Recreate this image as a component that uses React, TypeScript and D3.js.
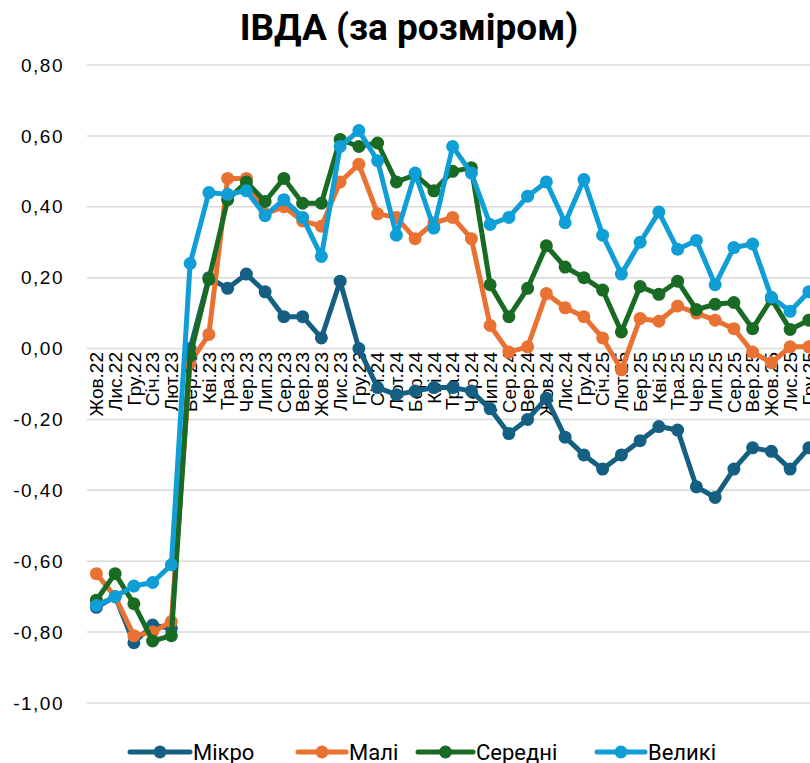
import React from 'react';
import * as d3 from 'd3';

// categories (months)
const categories = [
  'Жов.22', 'Лис.22', 'Гру.22', 'Січ.23', 'Лют.23', 'Бер.23', 'Кві.23', 'Тра.23', 'Чер.23', 'Лип.23',
  'Сер.23', 'Вер.23', 'Жов.23', 'Лис.23', 'Гру.23', 'Січ.24', 'Лют.24', 'Бер.24', 'Кві.24', 'Тра.24',
  'Чер.24', 'Лип.24', 'Сер.24', 'Вер.24', 'Жов.24', 'Лис.24', 'Гру.24', 'Січ.25', 'Лют.25', 'Бер.25',
  'Кві.25', 'Тра.25', 'Чер.25', 'Лип.25', 'Сер.25', 'Вер.25', 'Жов.25', 'Лис.25', 'Гру.25'
];

const micro = [
  -0.73, -0.70, -0.83, -0.78, -0.79, 0.00, 0.20, 0.17, 0.21, 0.16,
  0.09, 0.09, 0.03, 0.19, 0.00, -0.11, -0.13, -0.12, -0.11, -0.11,
  -0.12, -0.17, -0.24, -0.20, -0.14, -0.25, -0.30, -0.34, -0.30, -0.26,
  -0.22, -0.23, -0.39, -0.42, -0.34, -0.28, -0.29, -0.34, -0.28
];
const mali = [
  -0.635, -0.70, -0.81, -0.80, -0.77, -0.04, 0.04, 0.48, 0.48, 0.38,
  0.40, 0.36, 0.345, 0.47, 0.52, 0.38, 0.37, 0.31, 0.355, 0.37,
  0.31, 0.065, -0.01, 0.005, 0.155, 0.115, 0.09, 0.03, -0.06, 0.085,
  0.077, 0.12, 0.10, 0.08, 0.056, -0.01, -0.04, 0.005, 0.005
];
const seredni = [
  -0.71, -0.635, -0.72, -0.825, -0.81, -0.02, 0.195, 0.42, 0.47, 0.415,
  0.48, 0.41, 0.41, 0.59, 0.57, 0.58, 0.47, 0.49, 0.445, 0.50,
  0.51, 0.18, 0.09, 0.17, 0.29, 0.23, 0.20, 0.165, 0.047, 0.175,
  0.153, 0.19, 0.11, 0.125, 0.13, 0.056, 0.14, 0.054, 0.08
];
const velyki = [
  -0.725, -0.70, -0.67, -0.66, -0.61, 0.24, 0.44, 0.435, 0.445, 0.375,
  0.42, 0.37, 0.26, 0.57, 0.615, 0.53, 0.32, 0.495, 0.34, 0.57,
  0.495, 0.35, 0.37, 0.43, 0.47, 0.355, 0.477, 0.32, 0.21, 0.30,
  0.385, 0.28, 0.305, 0.18, 0.285, 0.295, 0.145, 0.105, 0.16
];

const yTicks = [0.8, 0.6, 0.4, 0.2, 0, -0.2, -0.4, -0.6, -0.8, -1.0];

const series = [
  { name: 'Мікро', values: micro, color: '#156082' },
  { name: 'Малі', values: mali, color: '#E97132' },
  { name: 'Середні', values: seredni, color: '#196B24' },
  { name: 'Великі', values: velyki, color: '#0F9ED5' }
];

const W = 810;
const H = 763;
const locale = d3.formatLocale({ decimal: ',', thousands: ' ', grouping: [3], currency: ['', ''], minus: '-' });
const fmt = locale.format('.2f');

export default function App() {
  const x = d3.scaleBand().domain(categories).range([87, 87 + categories.length * 18.75]).padding(0);
  const cx = (c: string) => (x(c) as number) + x.bandwidth() / 2;
  const y = d3.scaleLinear().domain([-1, 0.8]).range([703, 65]);
  const line = d3.line<number>()
    .x((_, i) => cx(categories[i]))
    .y(d => y(d));

  const legendItems = [
    { x0: 130, x1: 190, tx: 193 },
    { x0: 298, x1: 346, tx: 349 },
    { x0: 418, x1: 473, tx: 476 },
    { x0: 597, x1: 645, tx: 648 }
  ];
  const legendY = 752;

  return (
    <>
      <style>{`body{margin:0;}`}</style>
      <svg width={W} height={H} style={{ display: 'block', background: '#fff' }}>
        <text x={409} y={40} textAnchor="middle" fontFamily="Roboto, 'Liberation Sans', sans-serif"
          fontWeight={700} fontSize={37} fill="#000">ІВДА (за розміром)</text>

        {yTicks.map(t => (
          <g key={t}>
            <line x1={87} x2={W} y1={y(t)} y2={y(t)} stroke="#d9d9d9" strokeWidth={1.5} />
            <text x={64} y={y(t)} dy="0.35em" textAnchor="end" fontFamily="'Liberation Sans', Arial, sans-serif"
              fontSize={19} letterSpacing={1.5} fill="#000">{fmt(t)}</text>
          </g>
        ))}

        {categories.map(c => (
          <text key={c} x={cx(c)} y={352} dy="0.35em" textAnchor="end"
            transform={`rotate(-90, ${cx(c)}, 352)`}
            fontFamily="'Liberation Sans', Arial, sans-serif" fontSize={19} fill="#000">{c}</text>
        ))}

        {series.map(s => (
          <g key={s.name}>
            <path d={line(s.values) || ''} fill="none" stroke={s.color} strokeWidth={5}
              strokeLinejoin="round" strokeLinecap="round" />
            {s.values.map((v, i) => (
              <circle key={i} cx={cx(categories[i])} cy={y(v)} r={6.5} fill={s.color} />
            ))}
          </g>
        ))}

        {series.map((s, i) => {
          const l = legendItems[i];
          return (
            <g key={s.name}>
              <line x1={l.x0} x2={l.x1} y1={legendY} y2={legendY} stroke={s.color} strokeWidth={5} strokeLinecap="round" />
              <circle cx={(l.x0 + l.x1) / 2} cy={legendY} r={6.5} fill={s.color} />
              <text x={l.tx} y={legendY} dy="0.35em" fontFamily="Roboto, 'Liberation Sans', sans-serif"
                fontSize={22} fill="#000">{s.name}</text>
            </g>
          );
        })}
      </svg>
    </>
  );
}
